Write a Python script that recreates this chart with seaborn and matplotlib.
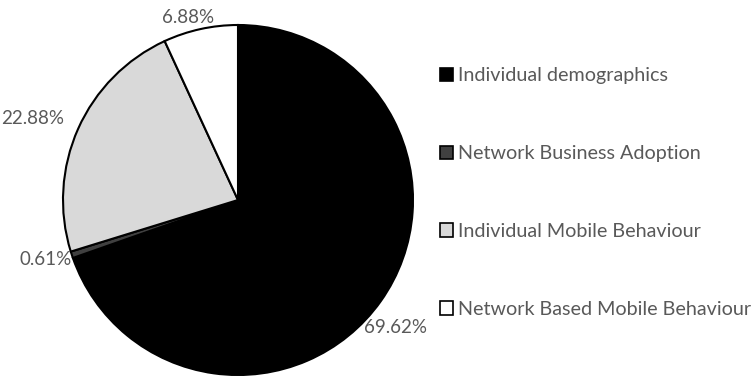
import numpy as np
import matplotlib
matplotlib.use("Agg")
import matplotlib.pyplot as plt
import seaborn as sns

categories = ["Individual demographics", "Network Business Adoption",
              "Individual Mobile Behaviour", "Network Based Mobile Behaviour"]
values = [69.62, 0.61, 22.88, 6.88]
pct_labels = ["69.62%", "0.61%", "22.88%", "6.88%"]
colors = ["#000000", "#404040", "#d9d9d9", "#ffffff"]
label_dist = [1.16, 1.15, 1.26, 1.08]
label_ang_shift = [-3.7, -0.9, 2.4, 3.0]

sns.set_theme(style="white")
plt.rcParams["font.family"] = ["Lato", "DejaVu Sans"]

W, H = 754, 378
fig = plt.figure(figsize=(W / 100, H / 100), dpi=100)
cx, cy, r = 238, 200, 175
ax = fig.add_axes([(cx - r) / W, (H - cy - r) / H, 2 * r / W, 2 * r / H])
wedges, _ = ax.pie(values, colors=colors, startangle=90, counterclock=False,
                   radius=1.0,
                   wedgeprops=dict(edgecolor="black", linewidth=1.5))
ax.set_xlim(-1, 1)
ax.set_ylim(-1, 1)
ax.set_aspect("equal")
ax.axis("off")

for w, lab, d, s in zip(wedges, pct_labels, label_dist, label_ang_shift):
    ang = np.deg2rad((w.theta1 + w.theta2) / 2 + s)
    ax.text(d * np.cos(ang), d * np.sin(ang), lab, ha="center", va="center",
            fontsize=13.5, color="#595959", clip_on=False)

leg = fig.legend(wedges, categories, loc="center left",
                 bbox_to_anchor=(440 / W, (H - 192.5) / H), frameon=False,
                 fontsize=14.2, labelcolor="#595959", handlelength=0.65,
                 handleheight=0.65, handletextpad=0.25, labelspacing=3.09,
                 borderaxespad=0, borderpad=0)
for h in leg.legend_handles:
    h.set_linewidth(1.2)

fig.savefig("out.png", dpi=100)
